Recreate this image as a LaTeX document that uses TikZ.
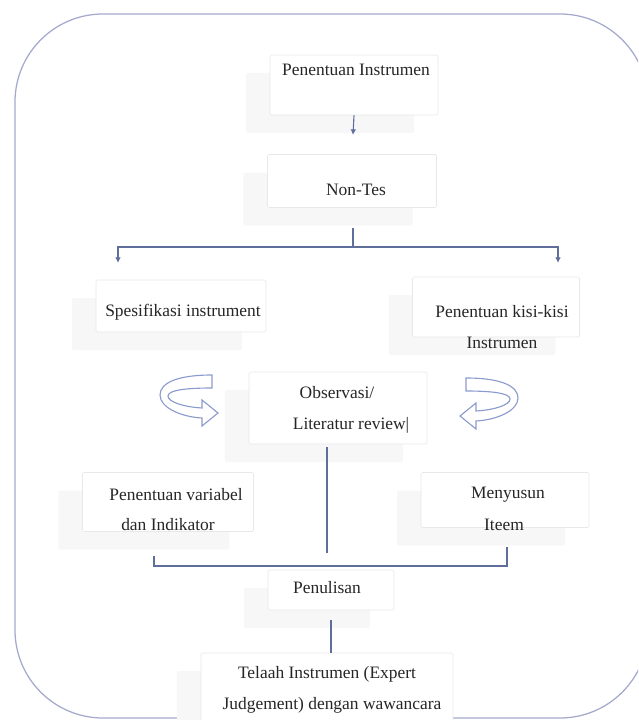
\documentclass[tikz,border=0pt]{standalone}
\usepackage{fontspec}
\setmainfont{Liberation Serif}
\usetikzlibrary{arrows.meta,shadows}
\definecolor{bingkai}{RGB}{165,170,205}
\definecolor{garisbiru}{RGB}{95,110,155}
\definecolor{putarbiru}{RGB}{140,155,205}
\tikzset{
    kotak/.style={draw=black!9, fill=white, rounded corners=1pt,
        general shadow={fill=black!3, shadow xshift=-0.6cm, shadow yshift=-0.45cm}},
    teks/.style={font=\fontsize{12.4}{15}\selectfont, text=black!85, inner sep=0pt},
    garis/.style={draw=garisbiru, line width=0.8pt},
    panah/.style={garis, -{Latex[length=4pt,width=4pt]}},
    putar/.pic={% panah berputar
        \draw[draw=putarbiru, fill=white, line width=0.8pt]
            (0,0) .. controls (-35,0) and (-52,8) .. (-52,20)
            .. controls (-52,33) and (-30,42) .. (-10,43)
            -- (-10,51) -- (6,38) -- (-10,25) -- (-10,33)
            .. controls (-28,32) and (-44,27) .. (-44,21)
            .. controls (-44,15) and (-25,13) .. (0,13) -- cycle;
    }
}
\begin{document}
\begin{tikzpicture}[x=0.025cm, y=-0.025cm]
      \useasboundingbox (0,0) rectangle (638,720);
      \clip (0,0) rectangle (638,720);
      \draw[bingkai, line width=0.9pt, rounded corners=2.2cm] (15,14) rectangle (648,718);
      % kotak
      \node[kotak, minimum width=168*0.025cm, minimum height=60*0.025cm] (kInstrumen) at (354,85) {};
      \node[kotak, minimum width=169*0.025cm, minimum height=53*0.025cm] (kNontes) at (352,181) {};
      \node[kotak, minimum width=170*0.025cm, minimum height=52*0.025cm] (kSpesifikasi) at (181,306) {};
      \node[kotak, minimum width=167*0.025cm, minimum height=60*0.025cm] (kKisi) at (496,307) {};
      \node[kotak, minimum width=178*0.025cm, minimum height=72*0.025cm] (kObservasi) at (338,408) {};
      \node[kotak, minimum width=171*0.025cm, minimum height=59*0.025cm] (kVariabel) at (168,502) {};
      \node[kotak, minimum width=168*0.025cm, minimum height=55*0.025cm] (kMenyusun) at (505,500) {};
      \node[kotak, minimum width=126*0.025cm, minimum height=40*0.025cm] (kPenulisan) at (331,590) {};
      \node[kotak, minimum width=252*0.025cm, minimum height=70*0.025cm] (kTelaah) at (327,688) {};
      % teks
      \node[teks] (tInstrumen) at (356,70) {Penentuan Instrumen};
      \node[teks] (tNontes) at (356,190) {Non-Tes};
      \node[teks] (tSpesifikasi) at (183,312) {Spesifikasi instrument};
      \node[teks] (tKisi) at (502,312) {Penentuan kisi-kisi};
      \node[teks] (tKisiB) at (502,343) {Instrumen};
      \node[teks] (tObservasi) at (337,393) {Observasi/};
      \node[teks] (tObservasiB) at (351,425) {Literatur review|};
      \node[teks] (tVariabel) at (176,495) {Penentuan variabel};
      \node[teks] (tVariabelB) at (168,525) {dan Indikator};
      \node[teks] (tMenyusun) at (508,495) {Menyusun};
      \node[teks] (tMenyusunB) at (504,525) {Iteem};
      \node[teks] (tPenulisan) at (327,588) {Penulisan};
      \node[teks] (tTelaah) at (327,674) {Telaah Instrumen (Expert};
      \node[teks] (tTelaahB) at (332,705) {Judgement) dengan wawancara};
      % panah berputar
      \pic at (212,375) {putar};
      \pic[xscale=-1] at (466,378) {putar};
      % penghubung
      \coordinate (a1) at (353,135);
      \coordinate (c1) at (353,228);
      \coordinate (c2) at (353,247);
      \coordinate (p1) at (118,263);
      \coordinate (p2) at (558,263);
      \coordinate (o1) at (327,447);
      \coordinate (o2) at (327,553);
      \coordinate (b1) at (154,556);
      \coordinate (b2) at (507,547);
      \coordinate (q1) at (331,620);
      \draw[panah] (kInstrumen.south) -- (a1);
      \draw[garis] (c1) -- (c2);
      \draw[panah] (c2) -| (p1);
      \draw[panah] (c2) -| (p2);
      \draw[garis, line width=1.2pt] (o1) -- (o2);
      \draw[garis] (b1) -- ++(0,10) -| (b2);
      \draw[garis] (q1) -- (q1 |- kTelaah.north);
\end{tikzpicture}
\end{document}
